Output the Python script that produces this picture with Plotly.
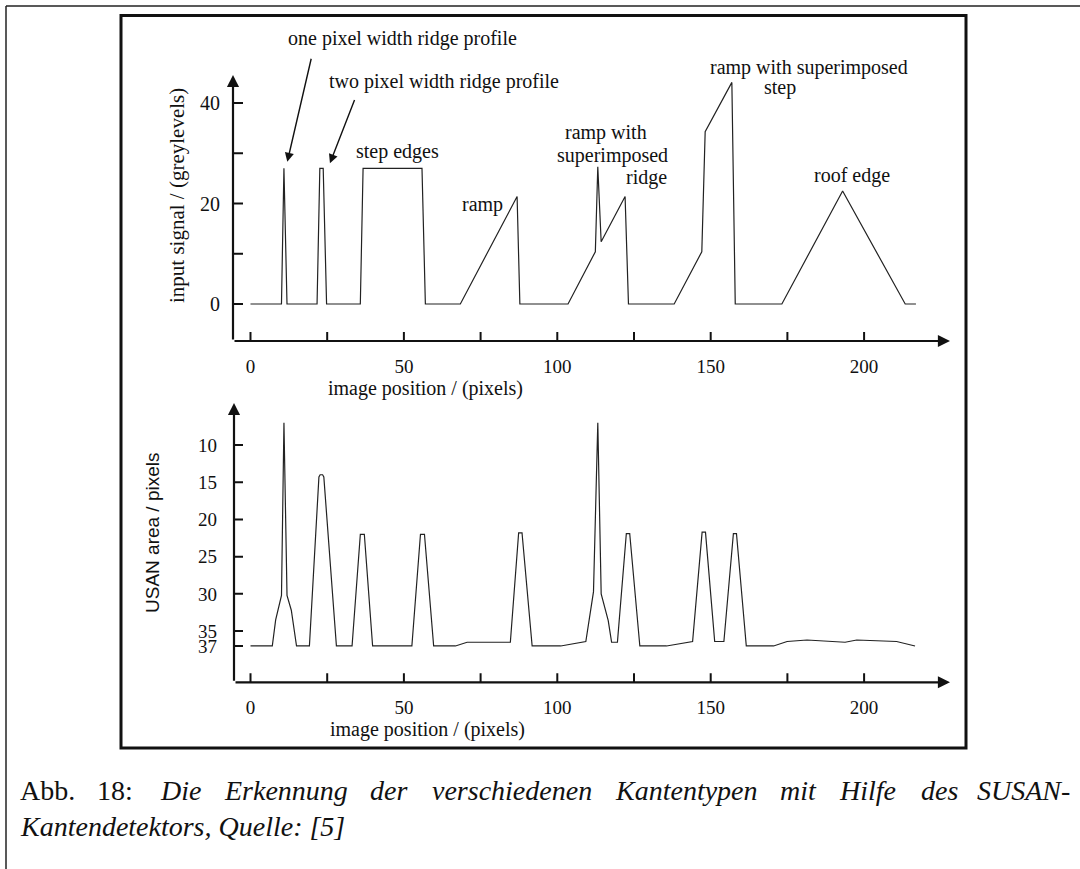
import plotly.graph_objects as go

# ---------------- data ----------------
signal_x = [0, 10.1, 10.9, 11.9, 21.7, 22.6, 23.7, 24.8, 35.8, 36.7, 55.9, 57.0,
            68.4, 86.9, 87.8, 103.5, 112.4, 113.2, 114.3, 122.1, 123.2, 138.1,
            147.1, 148.2, 156.9, 158.0, 173.2, 193.0, 213.4, 216.9]
signal_y = [0, 0, 27, 0, 0, 27, 27, 0, 0, 27, 27, 0,
            0, 21.4, 0, 0, 10.4, 27.3, 12.4, 21.4, 0, 0,
            10.4, 34.3, 44.1, 0, 0, 22.5, 0, 0]

usan_x = [0, 7.1, 8.2, 10.1, 10.9, 11.9, 13.3, 15.0,
          19.2, 22.3, 22.7, 23.5, 23.9, 28.0,
          33.1, 35.8, 37.1, 39.8,
          52.6, 55.4, 56.7, 59.7,
          66.8, 70.6, 84.7, 87.4, 88.5, 91.8,
          101.1, 109.3, 111.8, 113.2, 114.3, 116.6, 117.7, 119.6, 122.5, 123.6, 126.9,
          135.6, 144.1, 147.2, 148.3, 151.3, 154.3, 157.4, 158.4, 161.6,
          170.5, 174.9, 181.4, 193.8, 197.6, 210.6, 216.6]
usan_y = [37, 37, 33.5, 30.2, 7.0, 30.2, 32.2, 37,
          37, 14.3, 14.0, 14.0, 14.3, 37,
          37, 22.0, 22.0, 37,
          37, 22.0, 22.0, 37,
          37, 36.5, 36.5, 21.8, 21.8, 37,
          37, 36.4, 29.7, 7.0, 30.0, 33.6, 36.5, 36.5, 21.9, 21.9, 37,
          37, 36.4, 21.7, 21.7, 36.4, 36.4, 21.9, 21.9, 37,
          37, 36.4, 36.2, 36.5, 36.2, 36.4, 37]

x_ticks_all = [0, 25, 50, 75, 100, 125, 150, 175, 200]
x_tick_labels = [0, 50, 100, 150, 200]
top_y_ticks_all = [0, 10, 20, 30, 40]
top_y_tick_labels = [0, 20, 40]
bot_y_ticks = [10, 15, 20, 25, 30, 35, 37]

caption_words_1 = ["Abb.", "18:", "Die", "Erkennung", "der", "verschiedenen",
                   "Kantentypen", "mit", "Hilfe", "des", "SUSAN-"]
caption_italic_1 = [False, False, True, True, True, True, True, True, True, True, True]
caption_line_2 = "Kantendetektors, Quelle: [5]"

W, H = 1080, 869
SERIF = "Liberation Serif"
SANS = "Liberation Sans"
INK = "#111"


def px(x):
    return x / W


def py(y):
    return 1 - y / H


# axis ranges (data units spanned by the drawn axes)
x_rng = [-5.7, 228.0]
x_rng2 = [-5.38, 228.0]
top_y_rng = [-7.36, 45.57]
bot_y_rng = [41.88, 4.36]  # reversed

fig = go.Figure()
fig.add_trace(go.Scatter(x=signal_x, y=signal_y, mode="lines",
                         line=dict(color="#222", width=1.2), xaxis="x", yaxis="y",
                         showlegend=False, hoverinfo="skip"))
fig.add_trace(go.Scatter(x=usan_x, y=usan_y, mode="lines",
                         line=dict(color="#222", width=1.2), xaxis="x2", yaxis="y2",
                         showlegend=False, hoverinfo="skip"))

axis_common = dict(showgrid=False, zeroline=False, showline=False, ticks="")

fig.update_layout(
    width=W, height=H,
    margin=dict(l=0, r=0, t=0, b=0),
    paper_bgcolor="white", plot_bgcolor="rgba(0,0,0,0)",
    xaxis=dict(domain=[px(233), px(950)], range=x_rng, anchor="y",
               tickvals=x_tick_labels, ticktext=[str(v) for v in x_tick_labels],
               tickfont=dict(family=SERIF, size=19, color=INK),
               ticklabelstandoff=12, **axis_common),
    yaxis=dict(domain=[py(341), py(75)], range=top_y_rng, anchor="x",
               tickvals=top_y_tick_labels, ticktext=[str(v) for v in top_y_tick_labels],
               tickfont=dict(family=SERIF, size=20, color=INK),
               ticklabelstandoff=12, **axis_common),
    xaxis2=dict(domain=[px(234), px(950)], range=x_rng2, anchor="y2",
                tickvals=x_tick_labels, ticktext=[str(v) for v in x_tick_labels],
                tickfont=dict(family=SERIF, size=19, color=INK),
                ticklabelstandoff=12, **axis_common),
    yaxis2=dict(domain=[py(682.3), py(403)], range=bot_y_rng, anchor="x2",
                tickvals=bot_y_ticks, ticktext=[str(v) for v in bot_y_ticks],
                tickfont=dict(family=SERIF, size=19, color=INK),
                ticklabelstandoff=16, **axis_common),
)

shapes = []
# outer page frame (top & left)
shapes.append(dict(type="line", xref="paper", yref="paper", x0=px(6), x1=1, y0=py(6), y1=py(6),
                   line=dict(color="#222", width=1.5)))
shapes.append(dict(type="line", xref="paper", yref="paper", x0=px(6), x1=px(6), y0=py(6), y1=0,
                   line=dict(color="#222", width=1.5)))
# inner figure box
shapes.append(dict(type="rect", xref="paper", yref="paper", x0=px(121), x1=px(966),
                   y0=py(748), y1=py(15.5), line=dict(color="#111", width=3)))

tick_line = dict(color=INK, width=2)
# top panel ticks
for t in x_ticks_all:
    shapes.append(dict(type="line", xref="x", yref="y", x0=t, x1=t, ysizemode="pixel",
                       yanchor=top_y_rng[0], y0=-9, y1=9, line=tick_line))
for t in top_y_ticks_all:
    shapes.append(dict(type="line", xref="x", yref="y", y0=t, y1=t, xsizemode="pixel",
                       xanchor=x_rng[0], x0=-7, x1=10, line=tick_line))
# bottom panel ticks
for t in x_ticks_all:
    shapes.append(dict(type="line", xref="x2", yref="y2", x0=t, x1=t, ysizemode="pixel",
                       yanchor=bot_y_rng[0], y0=-8, y1=9, line=tick_line))
for t in bot_y_ticks:
    shapes.append(dict(type="line", xref="x2", yref="y2", y0=t, y1=t, xsizemode="pixel",
                       xanchor=x_rng2[0], x0=-8, x1=9, line=tick_line))
fig.update_layout(shapes=shapes)

ann = []
# axis lines with arrow heads
arrow_style = dict(showarrow=True, arrowhead=2, arrowsize=1.1, arrowwidth=2.2,
                   arrowcolor=INK, text="")
ann.append(dict(xref="x", yref="y", axref="x", ayref="y",
                x=x_rng[0], y=top_y_rng[1], ax=x_rng[0], ay=top_y_rng[0], **arrow_style))
ann.append(dict(xref="x", yref="y", axref="x", ayref="y",
                x=x_rng[1], y=top_y_rng[0], ax=x_rng[0], ay=top_y_rng[0], **arrow_style))
ann.append(dict(xref="x2", yref="y2", axref="x2", ayref="y2",
                x=x_rng2[0], y=bot_y_rng[1], ax=x_rng2[0], ay=bot_y_rng[0], **arrow_style))
ann.append(dict(xref="x2", yref="y2", axref="x2", ayref="y2",
                x=x_rng2[1], y=bot_y_rng[0], ax=x_rng2[0], ay=bot_y_rng[0], **arrow_style))

# pointer arrows to the ridge profiles
ptr = dict(showarrow=True, arrowhead=2, arrowsize=1.3, arrowwidth=1.4, arrowcolor=INK, text="")
ann.append(dict(xref="x", yref="y", axref="x", ayref="y", x=12.0, y=28.3, ax=19.9, ay=49.1, **ptr))
ann.append(dict(xref="x", yref="y", axref="x", ayref="y", x=25.9, y=28.0, ax=34.1, ay=40.9, **ptr))


def label(text, cx, cy, size=20, family=SERIF, angle=0, xanchor="center"):
    ann.append(dict(xref="paper", yref="paper", x=px(cx), y=py(cy), text=text,
                    showarrow=False, xanchor=xanchor, yanchor="middle", textangle=angle,
                    font=dict(family=family, size=size, color=INK)))


label("one pixel width ridge profile", 402, 39)
label("two pixel width ridge profile", 444, 82)
label("step edges", 397, 151)
label("ramp", 482, 205)
label("ramp with", 606, 132)
label("superimposed", 613, 155)
label("ridge", 646, 178)
label("ramp with superimposed", 809, 68)
label("step", 780, 87)
label("roof edge", 852, 175)

# axis titles
label("image position / (pixels)", 425, 388, size=20)
label("input signal / (greylevels)", 177, 196, size=21, angle=-90)
label("image position / (pixels)", 427, 729, size=20)
label("USAN area / pixels", 152, 533, size=19, family=SANS, angle=-90)

# caption: first line is justified (TeX style) between x=18 and x=1072
CAP_SIZE = 28
est_w27 = [52, 39, 39, 119, 38, 154, 137, 35, 57, 35, 90]  # approx. word widths at 27px
est_w = [w * CAP_SIZE / 27 for w in est_w27]
left, right = 18, 1072
gap = (right - left - sum(est_w)) / (len(est_w) - 1)
xs = left
for i, (w, it) in enumerate(zip(caption_words_1, caption_italic_1)):
    if i == len(caption_words_1) - 1:
        xa, xpos = "right", right
    else:
        xa, xpos = "left", xs
    ann.append(dict(xref="paper", yref="paper", x=px(xpos), y=py(790), xanchor=xa,
                    yanchor="middle", showarrow=False,
                    text=f"<i>{w}</i>" if it else w,
                    font=dict(family=SERIF, size=CAP_SIZE, color=INK)))
    xs += est_w[i] + gap
ann.append(dict(xref="paper", yref="paper", x=px(18), y=py(826), xanchor="left", yanchor="middle",
                showarrow=False, text=f"<i>{caption_line_2}</i>",
                font=dict(family=SERIF, size=CAP_SIZE, color=INK)))

fig.update_layout(annotations=ann)
fig.write_html("out.html", config={"displayModeBar": False},
               post_script="document.body.style.margin='0';")
